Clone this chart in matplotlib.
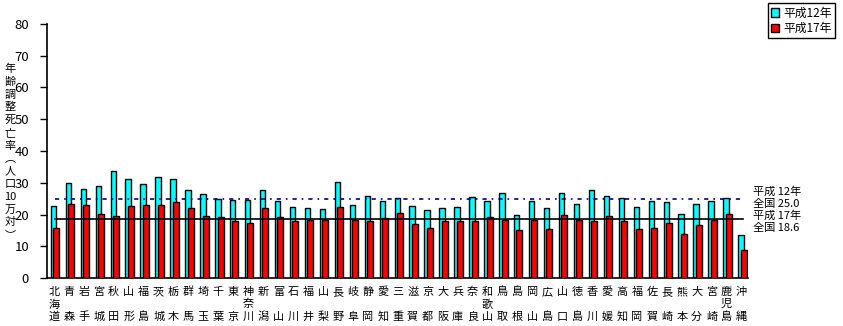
import matplotlib
matplotlib.use("Agg")
from matplotlib import pyplot as plt
from matplotlib.patches import Patch
import numpy as np

plt.rcParams['font.family'] = ['Noto Sans CJK JP', 'DejaVu Sans']

prefectures = [
    "北海道", "青森", "岩手", "宮城", "秋田", "山形", "福島", "茨城", "栃木",
    "群馬", "埼玉", "千葉", "東京", "神奈川", "新潟", "富山", "石川", "福井",
    "山梨", "長野", "岐阜", "静岡", "愛知", "三重", "滋賀", "京都", "大阪",
    "兵庫", "奈良", "和歌山", "鳥取", "島根", "岡山", "広島", "山口", "徳島",
    "香川", "愛媛", "高知", "福岡", "佐賀", "長崎", "熊本", "大分", "宮崎",
    "鹿児島", "沖縄",
]

# 年齢調整死亡率 (人口10万対)
rate_h12 = [
    22.7, 30.0, 28.1, 29.1, 33.8, 31.3, 29.7, 31.9, 31.1,
    27.8, 26.6, 25.0, 24.7, 24.7, 27.8, 24.4, 22.5, 21.9,
    21.6, 30.3, 23.1, 25.9, 24.4, 25.3, 22.8, 21.3, 21.9,
    22.5, 25.6, 24.4, 26.9, 19.7, 24.1, 22.2, 26.9, 23.4,
    27.8, 25.9, 25.3, 22.5, 24.4, 23.8, 20.3, 23.4, 24.4,
    25.3, 13.4,
]
rate_h17 = [
    15.9, 23.4, 23.1, 20.3, 19.4, 22.8, 23.1, 23.1, 23.8,
    22.2, 19.4, 19.2, 17.8, 17.2, 21.9, 19.1, 17.8, 18.2,
    18.4, 22.5, 18.4, 17.8, 18.8, 20.5, 16.9, 15.6, 17.8,
    17.8, 18.1, 19.1, 18.4, 15.0, 18.2, 15.5, 19.7, 18.2,
    17.8, 19.4, 18.1, 15.3, 15.6, 17.2, 13.8, 16.6, 18.4,
    20.3, 8.8,
]
national_h12 = 25.0
national_h17 = 18.6

W, H = 843, 326
fig = plt.figure(figsize=(W / 100, H / 100), dpi=100)
ax = fig.add_axes([47 / W, 48 / H, 701 / W, 254 / H])

x = np.arange(len(prefectures))
ax.bar(x, rate_h12, width=0.36, align='edge', color='#00FFFF',
       edgecolor='black', linewidth=1.0, zorder=2)
ax.bar(x + 0.16, rate_h17, width=0.40, align='edge', color='#FF0000',
       edgecolor='black', linewidth=1.0, zorder=3)

# national averages, drawn from first to last group centre
ax.plot([x[0] + 0.3, x[-1] + 0.3], [national_h12] * 2, color='#000080',
        linewidth=1.2, linestyle=(0, (2.5, 3, 1, 3)), zorder=4)
ax.plot([x[0] + 0.3, x[-1] + 0.3], [national_h17] * 2, color='black',
        linewidth=1.2, zorder=4)

ax.set_xlim(-0.25, len(prefectures) - 0.35)
ax.set_ylim(0, 80)
ax.set_yticks(range(0, 81, 10))
ax.tick_params(axis='y', length=5, width=1, pad=8, labelsize=9.5)

# prefecture names stacked vertically, one character per row
for i, name in enumerate(prefectures):
    rows = [name[0], "", name[1]] if len(name) == 2 else list(name)
    for r, ch in enumerate(rows):
        if ch:
            ax.text(i + 0.22, 0, ch, fontsize=8, ha='center', va='center',
                    transform=ax.get_xaxis_transform(),
                    ).set_position((i + 0.22, -(14 + 12.3 * r) / 254))
ax.set_xticks([])

for side in ['top', 'right']:
    ax.spines[side].set_visible(False)
ax.spines['left'].set_linewidth(1.2)
ax.spines['bottom'].set_linewidth(1.2)

ylabel = ["年", "齢", "調", "整", "死", "亡", "率", "︵", "人", "口",
          "10", "万", "対", "︶"]
for k, ch in enumerate(ylabel):
    fig.text(10 / W, 1 - (69 + 12.77 * k) / H, ch, fontsize=8,
             ha='center', va='center')

note = ["平成 12年", f"全国 {national_h12:.1f}", "平成 17年", f"全国 {national_h17:.1f}"]
for k, line in enumerate(note):
    fig.text(753 / W, 1 - (192 + 12 * k) / H, line, fontsize=8,
             ha='left', va='center')

handles = [Patch(facecolor='#00FFFF', edgecolor='black', label='平成12年'),
           Patch(facecolor='#FF0000', edgecolor='black', label='平成17年')]
leg = fig.legend(handles=handles, loc='upper right',
                 bbox_to_anchor=(835 / W, 1 - 3 / H), fontsize=8.5,
                 fancybox=False, edgecolor='black', framealpha=1,
                 handlelength=0.7, handleheight=0.7, handletextpad=0.3,
                 borderpad=0.3, labelspacing=0.2, borderaxespad=0)
leg.get_frame().set_linewidth(1.0)

fig.savefig("out.png", dpi=100)
